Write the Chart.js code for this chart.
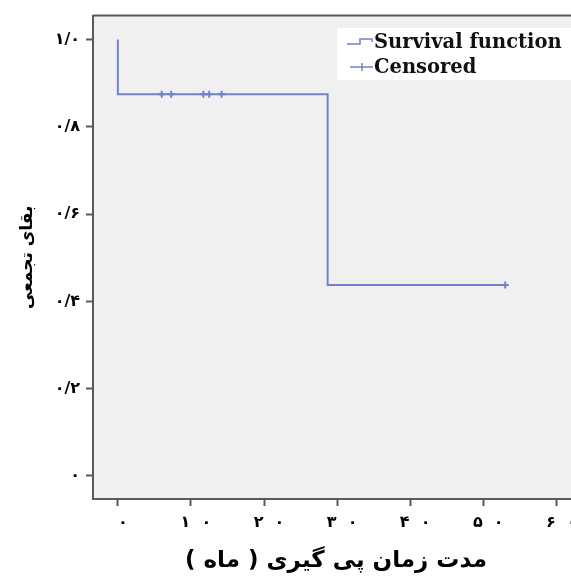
<!DOCTYPE html>
<html>
<head>
<meta charset="utf-8">
<script src="https://cdn.jsdelivr.net/npm/chart.js@4.4.1/dist/chart.umd.min.js"></script>
<style>
  html, body { margin: 0; padding: 0; background: #fff; }
  #wrap { width: 571px; height: 576px; }
</style>
</head>
<body>
<div id="wrap"><canvas id="km" width="571" height="576"></canvas></div>
<script>
// Kaplan-Meier data
const stepTimes = [0, 0, 28.7, 53];
const survival = [1.0, 0.875, 0.4375, 0.4375];
const censorTimes = [6.0, 7.3, 11.7, 12.5, 14.2, 53];
const censorSurv = [0.875, 0.875, 0.875, 0.875, 0.875, 0.4375];

const xTicks = [0, 10, 20, 30, 40, 50, 60];
const yTicks = [0, 0.2, 0.4, 0.6, 0.8, 1.0];

const xTitle = '\u200Fمدت زمان پی گیری ( ماه ) \u200F';
const yTitle = 'بقای تجمعی';
const legendLabels = ['Survival function', 'Censored'];

const lineColor = '#7083c9';
const axisColor = '#5a5a5a';

// persian digits, "/" as decimal sign
function fa(s) {
  return String(s).replace(/[0-9]/g, d => '۰۱۲۳۴۵۶۷۸۹'[d]).replace('.', '/');
}

const font = 'DejaVu Sans';

// plot background, top border and legend box
const plotDeco = {
  id: 'plotDeco',
  beforeDraw(chart) {
    const { ctx, chartArea: a } = chart;
    ctx.save();
    ctx.fillStyle = '#f0f0f0';
    ctx.fillRect(a.left, a.top, a.right - a.left, a.bottom - a.top);
    ctx.strokeStyle = axisColor;
    ctx.lineWidth = 2;
    ctx.beginPath();
    ctx.moveTo(a.left, a.top);
    ctx.lineTo(a.right, a.top);
    ctx.stroke();
    ctx.restore();
  },
  afterDraw(chart) {
    const { ctx } = chart;
    ctx.save();
    ctx.fillStyle = '#fff';
    ctx.fillRect(337, 28, 234, 52);
    ctx.strokeStyle = lineColor;
    ctx.lineWidth = 1.5;
    // step symbol
    ctx.beginPath();
    ctx.moveTo(347, 44);
    ctx.lineTo(360, 44);
    ctx.lineTo(360, 39);
    ctx.lineTo(372, 39);
    ctx.lineTo(372, 42);
    ctx.stroke();
    // censor symbol
    ctx.beginPath();
    ctx.moveTo(350, 67);
    ctx.lineTo(373, 67);
    ctx.moveTo(362, 63);
    ctx.lineTo(362, 71);
    ctx.stroke();
    ctx.fillStyle = '#111';
    ctx.font = 'bold 19.5px "DejaVu Serif"';
    ctx.textBaseline = 'alphabetic';
    ctx.fillText(legendLabels[0], 374, 48);
    ctx.fillText(legendLabels[1], 374, 73);
    ctx.restore();
  }
};

new Chart(document.getElementById('km'), {
  type: 'scatter',
  data: {
    datasets: [{
      label: legendLabels[0],
      data: stepTimes.map((t, i) => ({ x: t, y: survival[i] })),
      showLine: true,
      stepped: 'before',
      borderColor: lineColor,
      borderWidth: 2,
      pointRadius: 0,
      fill: false
    }, {
      label: legendLabels[1],
      data: censorTimes.map((t, i) => ({ x: t, y: censorSurv[i] })),
      showLine: false,
      pointStyle: 'cross',
      pointRadius: 3.5,
      pointBorderWidth: 2,
      borderColor: lineColor,
      backgroundColor: lineColor
    }]
  },
  options: {
    responsive: false,
    animation: false,
    layout: { autoPadding: false, padding: { top: 14, right: 0, left: 0, bottom: 0 } },
    plugins: { legend: { display: false }, tooltip: { enabled: false } },
    scales: {
      x: {
        type: 'linear',
        min: -3.4,
        max: 62,
        afterBuildTicks: s => { s.ticks = xTicks.map(v => ({ value: v })); },
        afterFit: s => { s.height = 77; s.paddingLeft = 0; s.paddingRight = 0; },
        grid: { drawOnChartArea: false, tickLength: 7, tickWidth: 2, tickColor: axisColor },
        border: { color: axisColor, width: 2 },
        ticks: {
          color: '#000',
          padding: 7,
          labelOffset: 5,
          maxRotation: 0,
          autoSkip: false,
          font: { family: font, size: 16, weight: 'bold' },
          callback: v => fa(v).split('').join('  ')
        },
        title: {
          display: true,
          text: xTitle,
          color: '#000',
          font: { family: font, size: 23, weight: 'bold' },
          padding: { top: 0, bottom: 1 }
        }
      },
      y: {
        type: 'linear',
        min: -0.053,
        max: 1.055,
        afterBuildTicks: s => { s.ticks = yTicks.map(v => ({ value: v })); },
        afterFit: s => { s.width = 93; },
        grid: { drawOnChartArea: false, tickLength: 7, tickWidth: 2, tickColor: axisColor },
        border: { color: axisColor, width: 2 },
        ticks: {
          color: '#000',
          padding: 6,
          autoSkip: false,
          font: { family: font, size: 16, weight: 'bold' },
          callback: v => (v === 0 ? fa(0) : fa(v.toFixed(1)))
        },
        title: {
          display: true,
          text: yTitle,
          color: '#000',
          font: { family: font, size: 17, weight: 'bold' },
          padding: { top: 17, bottom: 0 }
        }
      }
    }
  },
  plugins: [plotDeco]
});
</script>
</body>
</html>
